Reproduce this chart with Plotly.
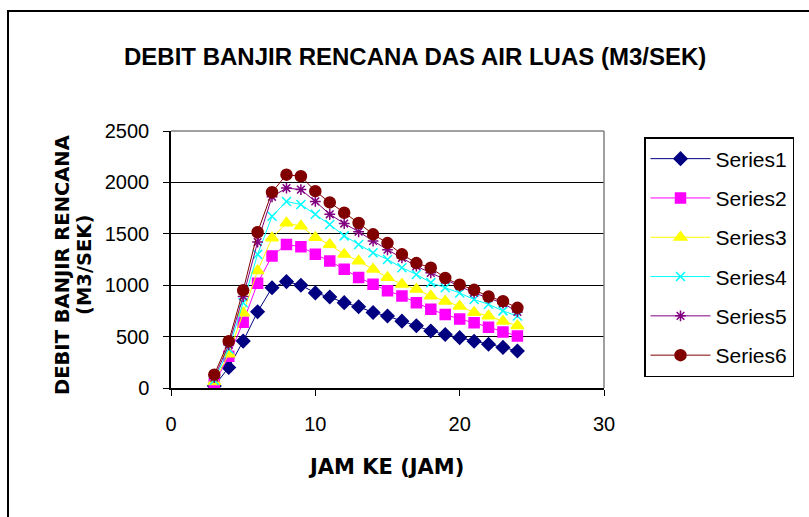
import plotly.graph_objects as go

# Hourly design flood discharge (m3/s) for six return-period series
hours = list(range(3, 25))
series_names = ["Series1", "Series2", "Series3", "Series4", "Series5", "Series6"]
series1 = [20, 200, 456, 742, 975, 1035, 1000, 925, 885, 830, 790, 735, 700, 650, 605, 555, 520, 490, 455, 425, 395, 360]
series2 = [40, 310, 640, 1020, 1285, 1395, 1375, 1300, 1235, 1155, 1075, 1010, 945, 895, 830, 765, 715, 670, 635, 590, 545, 505]
series3 = [60, 330, 730, 1140, 1460, 1605, 1575, 1465, 1395, 1300, 1235, 1155, 1075, 1010, 960, 895, 845, 795, 735, 700, 650, 605]
series4 = [75, 380, 830, 1300, 1670, 1815, 1785, 1690, 1590, 1480, 1395, 1315, 1250, 1170, 1105, 1025, 975, 925, 860, 815, 750, 700]
series5 = [100, 420, 890, 1420, 1860, 1945, 1930, 1815, 1690, 1600, 1520, 1430, 1345, 1265, 1185, 1120, 1055, 990, 925, 875, 825, 740]
series6 = [130, 455, 950, 1515, 1905, 2075, 2060, 1915, 1805, 1705, 1605, 1495, 1410, 1300, 1215, 1170, 1070, 1005, 955, 890, 845, 780]
all_series = [series1, series2, series3, series4, series5, series6]

colors = ["#000080", "#FF00FF", "#FFFF00", "#00FFFF", "#800080", "#800000"]
symbols = ["diamond", "square", "triangle-up", "x-thin-open", "asterisk-open", "circle"]
sizes = [10, 10, 11, 9, 9, 11]

FONT = "Liberation Sans, Arial, sans-serif"
BOLD_FONT = "DejaVu Sans, Liberation Sans, sans-serif"

fig = go.Figure()
for i, (name, vals) in enumerate(zip(series_names, all_series)):
    fig.add_trace(go.Scatter(
        x=hours, y=vals, name=name, mode="lines+markers",
        legendgroup=name,
        line=dict(color=colors[i], width=1),
        marker=dict(symbol=symbols[i], color=colors[i], size=sizes[i],
                    line=dict(color=colors[i], width=1.5)),
    ))

L, R, T, B = 171, 205, 131, 129
W, H = 809, 517
pw, ph = W - L - R, H - T - B

def px(x):
    return (x - L) / pw

def py(y):
    return (H - B - y) / ph

fig.update_layout(
    width=W, height=H,
    margin=dict(l=L, r=R, t=T, b=B),
    paper_bgcolor="white", plot_bgcolor="white",
    font=dict(family=FONT, color="black", size=20),
    showlegend=True,
    legend=dict(
        x=px(644), y=py(137), xanchor="left", yanchor="top",
        bordercolor="black", borderwidth=1.5, bgcolor="white",
        font=dict(size=21, family=FONT),
        tracegroupgap=9, itemwidth=60, maxheight=400,
    ),
    xaxis=dict(
        range=[0, 30], dtick=10, tick0=0, showgrid=False, zeroline=False,
        showline=True, linecolor="black", linewidth=1.5,
        ticks="outside", ticklen=6, tickcolor="black", ticklabelstandoff=11,
        tickfont=dict(size=20),
    ),
    yaxis=dict(
        range=[0, 2500], dtick=500, tick0=0, showgrid=True, gridcolor="black",
        gridwidth=1, zeroline=False,
        showline=True, linecolor="black", linewidth=1.5,
        ticks="outside", ticklen=6, tickcolor="black", ticklabelstandoff=10,
        tickfont=dict(size=20),
    ),
    shapes=[
        # chart frame
        dict(type="rect", xref="paper", yref="paper",
             x0=px(8), x1=px(815), y0=py(523), y1=py(11),
             line=dict(color="black", width=2), layer="below"),
        # plot-area border (top and right)
        dict(type="line", xref="paper", yref="paper", x0=0, x1=1, y0=1, y1=1,
             line=dict(color="#808080", width=1.5)),
        dict(type="line", xref="paper", yref="paper", x0=1, x1=1, y0=0, y1=1,
             line=dict(color="#808080", width=1.5)),
    ],
    annotations=[
        dict(text="<b>DEBIT BANJIR RENCANA DAS AIR LUAS (M3/SEK)</b>",
             xref="paper", yref="paper", x=px(415), y=py(57),
             xanchor="center", yanchor="middle", showarrow=False,
             font=dict(size=24, family=FONT)),
        dict(text="<b>JAM KE (JAM)</b>",
             xref="paper", yref="paper", x=px(386), y=py(467),
             xanchor="center", yanchor="middle", showarrow=False,
             font=dict(size=21, family=BOLD_FONT)),
        dict(text="<b>DEBIT BANJIR RENCANA</b>",
             xref="paper", yref="paper", x=px(62), y=py(265),
             xanchor="center", yanchor="middle", showarrow=False, textangle=-90,
             font=dict(size=19.5, family=BOLD_FONT)),
        dict(text="<b>(M3/SEK)</b>",
             xref="paper", yref="paper", x=px(84), y=py(265),
             xanchor="center", yanchor="middle", showarrow=False, textangle=-90,
             font=dict(size=19.5, family=BOLD_FONT)),
    ],
)

fig.write_html("out.html")
